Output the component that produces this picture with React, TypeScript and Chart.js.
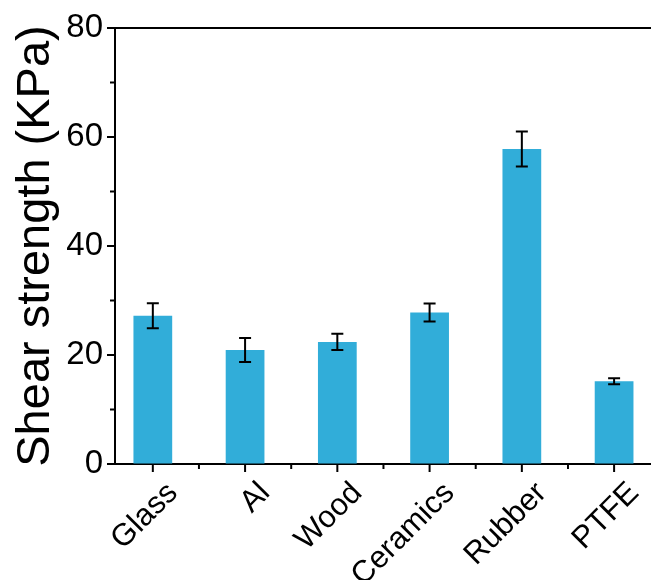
import React, { useEffect, useRef } from 'react';
import { Chart, registerables } from 'chart.js';

Chart.register(...registerables);

const categories = ['Glass', 'Al', 'Wood', 'Ceramics', 'Rubber', 'PTFE'];
const values = [27.2, 20.9, 22.4, 27.8, 57.8, 15.2];
const errors = [2.3, 2.2, 1.5, 1.65, 3.2, 0.55];
const yTicks = [0, 20, 40, 60, 80];
const yMinorTicks = [10, 30, 50, 70];
const xMinorTicks = [1.5, 2.5, 3.5, 4.5, 5.5];

const FONT = "'Liberation Sans', Arial, Helvetica, sans-serif";

const extrasPlugin = {
  id: 'extras',
  afterDatasetsDraw(chart: any) {
    const ctx = chart.ctx;
    const xs = chart.scales.x;
    const ys = chart.scales.y;
    const area = chart.chartArea;
    ctx.save();
    ctx.strokeStyle = '#000';
    ctx.lineWidth = 2;
    // error bars
    values.forEach((v, i) => {
      const x = xs.getPixelForValue(i + 1);
      const yt = ys.getPixelForValue(v + errors[i]);
      const yb = ys.getPixelForValue(v - errors[i]);
      const cap = 6;
      ctx.beginPath();
      ctx.moveTo(x, yt);
      ctx.lineTo(x, yb);
      ctx.moveTo(x - cap, yt);
      ctx.lineTo(x + cap, yt);
      ctx.moveTo(x - cap, yb);
      ctx.lineTo(x + cap, yb);
      ctx.stroke();
    });
    // top frame line
    ctx.beginPath();
    ctx.moveTo(area.left, area.top);
    ctx.lineTo(chart.width, area.top);
    ctx.stroke();
    // major ticks y
    yTicks.forEach((v) => {
      const y = ys.getPixelForValue(v);
      ctx.beginPath();
      ctx.moveTo(area.left - 8, y);
      ctx.lineTo(area.left, y);
      ctx.stroke();
    });
    // minor ticks y
    yMinorTicks.forEach((v) => {
      const y = ys.getPixelForValue(v);
      ctx.beginPath();
      ctx.moveTo(area.left - 5, y);
      ctx.lineTo(area.left, y);
      ctx.stroke();
    });
    // major ticks x
    categories.forEach((_, i) => {
      const x = xs.getPixelForValue(i + 1);
      ctx.beginPath();
      ctx.moveTo(x, area.bottom);
      ctx.lineTo(x, area.bottom + 8);
      ctx.stroke();
    });
    // minor ticks x
    xMinorTicks.forEach((v) => {
      const x = xs.getPixelForValue(v);
      ctx.beginPath();
      ctx.moveTo(x, area.bottom);
      ctx.lineTo(x, area.bottom + 5);
      ctx.stroke();
    });
    ctx.restore();
  },
};

export default function App() {
  const ref = useRef<HTMLCanvasElement>(null);
  useEffect(() => {
    if (!ref.current) return;
    const chart = new Chart(ref.current, {
      type: 'bar',
      data: {
        datasets: [
          {
            data: categories.map((c, i) => ({ x: i + 1, y: values[i] })),
            backgroundColor: '#31ADD9',
            categoryPercentage: 1,
            barPercentage: 0.42,
          },
        ],
      },
      options: {
        responsive: false,
        animation: false,
        layout: { padding: { top: 28, right: 0, left: 0, bottom: 0 } },
        plugins: { legend: { display: false }, tooltip: { enabled: false } },
        scales: {
          x: {
            type: 'linear',
            min: 0.59,
            max: 6.4,
            offset: false,
            afterBuildTicks: (s: any) => {
              s.ticks = categories.map((_, i) => ({ value: i + 1 }));
            },
            afterFit: (s: any) => {
              s.height = 116;
            },
            ticks: {
              callback: (v: any) => categories[Math.round(v) - 1] ?? '',
              maxRotation: 45,
              minRotation: 45,
              autoSkip: false,
              font: { family: FONT, size: 31 },
              color: '#000',
              padding: 3,
              labelOffset: 20,
            },
            grid: {
              display: true,
              drawOnChartArea: false,
              drawTicks: true,
              tickLength: 8,
              tickWidth: 2,
              tickColor: 'rgba(0,0,0,0)',
            },
            border: { display: true, color: '#000', width: 2 },
          },
          y: {
            type: 'linear',
            min: 0,
            max: 80,
            afterBuildTicks: (s: any) => {
              s.ticks = yTicks.map((v) => ({ value: v }));
            },
            afterFit: (s: any) => {
              s.width = 115;
            },
            ticks: {
              font: { family: FONT, size: 33 },
              color: '#000',
              padding: 4,
            },
            grid: {
              display: true,
              drawOnChartArea: false,
              drawTicks: true,
              tickLength: 8,
              tickWidth: 2,
              tickColor: 'rgba(0,0,0,0)',
            },
            border: { display: true, color: '#000', width: 2 },
            title: {
              display: true,
              text: 'Shear strength (KPa)',
              font: { family: FONT, size: 47 },
              color: '#000',
              padding: { top: 8, bottom: 0 },
            },
          },
        },
      } as any,
      plugins: [extrasPlugin],
    });
    return () => chart.destroy();
  }, []);
  return (
    <div
      style={{
        position: 'fixed',
        left: 0,
        top: 0,
        width: 651,
        height: 580,
        overflow: 'hidden',
        background: '#fff',
      }}
    >
      <canvas ref={ref} width={651} height={580} style={{ display: 'block' }} />
    </div>
  );
}
